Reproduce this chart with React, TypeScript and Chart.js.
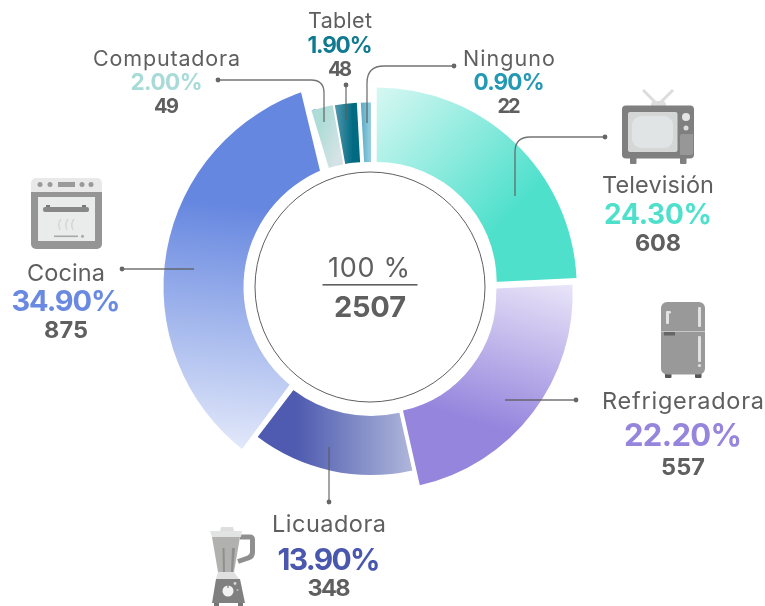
import React, { useEffect, useRef } from "react";
import { Chart, registerables } from "chart.js";

Chart.register(...registerables);

// ---------- data ----------
const categories = ["Televisión", "Refrigeradora", "Licuadora", "Cocina", "Computadora", "Tablet", "Ninguno"];
const counts = [608, 557, 348, 875, 49, 48, 22];
const percents = [24.3, 22.2, 13.9, 34.9, 2.0, 1.9, 0.9];
const totalCount = 2507;
const totalLabel = "100 %";

// ---------- styles ----------
const FONT = "Inter, 'Noto Sans', sans-serif";
const GREY = "#5f5f5f";
const percentColors = ["#4fe0cc", "#9585dd", "#4a57ae", "#6a8ae2", "#a8dbd8", "#0f7a90", "#2499b3"];
// per-slice explosion: arc centre and radii
const sliceStyle = [
  { cx: 376.7, cy: 287.5, r0: 112, r1: 200 },
  { cx: 376.7, cy: 294, r0: 119.5, r1: 196 },
  { cx: 371, cy: 287, r0: 129, r1: 188 },
  { cx: 370, cy: 287, r0: 126.5, r1: 206.5 },
  { cx: 365, cy: 287, r0: 124.5, r1: 184.5 },
  { cx: 367, cy: 287, r0: 125, r1: 184.5 },
  { cx: 371, cy: 287, r0: 125, r1: 184.5 },
];
type Stop = [number, string];
const gradients: { line: number[]; stops: Stop[] }[] = [
  { line: [382, 88, 512, 212], stops: [[0, "#d4f7f2"], [1, "#4fe0cc"]] },
  { line: [556, 280, 508, 432], stops: [[0, "#e9e5f8"], [1, "#9585dd"]] },
  { line: [296, 440, 412, 440], stops: [[0, "#4e5bb0"], [1, "#aeb6da"]] },
  { line: [300, 212, 276, 452], stops: [[0, "#6687e0"], [1, "#e2e8fa"]] },
  { line: [318, 130, 345, 140], stops: [[0, "#aedcd7"], [1, "#d6e3e6"]] },
  { line: [336, 130, 353, 130], stops: [[0, "#4f95a9"], [1, "#006a82"]] },
  { line: [360, 130, 373, 130], stops: [[0, "#52a7c4"], [1, "#a5d7e4"]] },
];
// label blocks: centre x, baselines, font sizes, measured widths
const labelStyle = [
  { x: 658, y: [193, 224, 251], s: [23.5, 28, 23.5], w: [112, 108, 46] },
  { x: 683, y: [409, 446, 475], s: [23.5, 31, 23.5], w: [162, 118, 44] },
  { x: 329, y: [532, 570, 596], s: [23.5, 30, 23.5], w: [114, 103, 43] },
  { x: 66, y: [281, 311, 338], s: [23.5, 29, 23.5], w: [78, 109, 44] },
  { x: 166.5, y: [66, 90, 113], s: [21.5, 22.5, 20], w: [147, 72, 25] },
  { x: 340, y: [28, 53, 76], s: [21.5, 22.5, 20], w: [64, 65, 24] },
  { x: 509, y: [66, 90, 113], s: [21.5, 22.5, 20], w: [92, 71, 23] },
];

function fitText(ctx: CanvasRenderingContext2D, text: string, cx: number, y: number, width: number, font: string, color: string) {
  ctx.save();
  ctx.font = font;
  ctx.fillStyle = color;
  ctx.textAlign = "left";
  ctx.textBaseline = "alphabetic";
  (ctx as any).letterSpacing = "0px";
  const w = ctx.measureText(text).width;
  const ls = (width - w) / Math.max(1, text.length - 1);
  (ctx as any).letterSpacing = ls.toFixed(3) + "px";
  ctx.fillText(text, cx - width / 2, y);
  ctx.restore();
}

function rr(ctx: CanvasRenderingContext2D, x: number, y: number, w: number, h: number, r: number | number[], fill: string) {
  ctx.beginPath();
  (ctx as any).roundRect(x, y, w, h, r);
  ctx.fillStyle = fill;
  ctx.fill();
}
function poly(ctx: CanvasRenderingContext2D, pts: number[], fill: string) {
  ctx.beginPath();
  ctx.moveTo(pts[0], pts[1]);
  for (let i = 2; i < pts.length; i += 2) ctx.lineTo(pts[i], pts[i + 1]);
  ctx.closePath();
  ctx.fillStyle = fill;
  ctx.fill();
}
function dot(ctx: CanvasRenderingContext2D, x: number, y: number, r: number, fill: string) {
  ctx.beginPath();
  ctx.arc(x, y, r, 0, Math.PI * 2);
  ctx.fillStyle = fill;
  ctx.fill();
}
function stroke(ctx: CanvasRenderingContext2D, pts: number[], w: number, color: string) {
  ctx.beginPath();
  ctx.moveTo(pts[0], pts[1]);
  for (let i = 2; i < pts.length; i += 2) ctx.lineTo(pts[i], pts[i + 1]);
  ctx.lineWidth = w;
  ctx.strokeStyle = color;
  ctx.stroke();
}

function drawTv(c: CanvasRenderingContext2D) {
  stroke(c, [643, 90, 656, 103], 3, "#dcdcdc");
  stroke(c, [673, 90, 660, 103], 3, "#dcdcdc");
  rr(c, 651, 101, 15, 6, [4, 4, 0, 0], "#dedede");
  rr(c, 630, 156, 6.5, 8, 1, "#808080");
  rr(c, 680, 156, 6.5, 8, 1, "#808080");
  rr(c, 622, 105.5, 72, 53, 4, "#7f7f7f");
  rr(c, 628, 112, 49.5, 40, 2, "#d5d6d6");
  rr(c, 632, 116, 41, 32, 9, "#e1e4e4");
  dot(c, 686, 117, 4, "#e4e4e4");
  dot(c, 686, 128, 2.5, "#dcdcdc");
  rr(c, 680, 134, 13, 21, [2, 0, 2, 0], "#979797");
}
function drawFridge(c: CanvasRenderingContext2D) {
  rr(c, 665, 372, 6.5, 6, 1, "#555");
  rr(c, 695, 372, 6.5, 6, 1, "#555");
  rr(c, 661, 302, 44, 72.5, 6, "#999");
  c.fillStyle = "#c6c6c6";
  c.fillRect(661, 331, 44, 1);
  c.fillStyle = "#666";
  c.fillRect(664, 332, 11, 3.5);
  rr(c, 666, 312, 3, 12, 1, "#e2e2e2");
  rr(c, 666, 311, 5, 2.5, 1, "#e2e2e2");
  rr(c, 698, 307, 3, 20, 1, "#e2e2e2");
  rr(c, 698, 336, 3, 26, 1, "#e2e2e2");
  dot(c, 699.5, 365.5, 1.6, "#e2e2e2");
}
function drawOven(c: CanvasRenderingContext2D) {
  rr(c, 31, 178, 71, 15, [5, 5, 0, 0], "#e9e9e9");
  rr(c, 31, 192, 71, 57, [0, 0, 5, 5], "#959595");
  c.fillStyle = "#eaecec";
  c.fillRect(38, 197, 57, 44);
  [40, 50, 82, 91].forEach((x) => dot(c, x, 184.5, 2.5, "#9a9a9a"));
  c.fillStyle = "#9a9a9a";
  c.fillRect(58, 182, 17, 5);
  rr(c, 43, 207, 46, 5, 2, "#888");
  c.fillStyle = "#777";
  c.fillRect(46, 205, 4, 2);
  c.fillRect(82, 205, 4, 2);
  [60, 67, 73].forEach((x) => {
    c.beginPath();
    c.moveTo(x + 1, 219);
    c.quadraticCurveTo(x - 3, 224, x, 230);
    c.lineWidth = 1.3;
    c.strokeStyle = "#d2d4d4";
    c.stroke();
  });
  c.fillStyle = "#a8a8a8";
  c.fillRect(54, 235.5, 24, 1.6);
  dot(c, 82.5, 236.3, 1.5, "#a8a8a8");
}
function drawBlender(c: CanvasRenderingContext2D) {
  c.save();
  c.lineJoin = "round";
  c.beginPath();
  c.moveTo(240, 537);
  c.lineTo(250, 537);
  c.quadraticCurveTo(252.5, 537, 252.5, 540);
  c.lineTo(252.5, 552);
  c.quadraticCurveTo(252.5, 557, 248, 558);
  c.lineTo(238, 561.5);
  c.lineWidth = 5;
  c.strokeStyle = "#8f8f8f";
  c.stroke();
  c.restore();
  poly(c, [220, 531, 221, 527, 233, 527, 234, 531], "#dedede");
  poly(c, [210, 531, 242, 531, 241, 537, 212, 537], "#e2e4e4");
  poly(c, [212, 537, 240, 537, 234, 572, 218, 572], "#b1b1af");
  poly(c, [222.5, 548, 224.5, 548, 225, 572, 223, 572], "#8f8f8f");
  poly(c, [232, 548, 235, 548, 233, 572, 231, 572], "#8f8f8f");
  poly(c, [218, 572, 234, 572, 239, 579, 216, 579], "#e0e0e0");
  rr(c, 214, 602, 5, 4, 0, "#777");
  rr(c, 238, 602, 5, 4, 0, "#777");
  poly(c, [216, 579, 240, 579, 245, 603, 212, 603], "#808080");
  dot(c, 228, 591, 5.5, "#f2f2f2");
  c.fillStyle = "#808080";
  c.fillRect(227.4, 584, 1.2, 4);
  dot(c, 235, 583.5, 1.4, "#d8d8d8");
  dot(c, 237.5, 590, 1, "#bdbdbd");
}

const leaderPaths: ((c: CanvasRenderingContext2D) => number[])[] = [
  (c) => { c.moveTo(515, 196); c.lineTo(515, 152); c.quadraticCurveTo(515, 137, 530, 137); c.lineTo(605, 137); return [605, 137]; },
  (c) => { c.moveTo(505, 400); c.lineTo(576, 400); return [576, 400]; },
  (c) => { c.moveTo(329, 447); c.lineTo(329, 502); return [329, 502]; },
  (c) => { c.moveTo(194, 269); c.lineTo(122, 269); return [122, 269]; },
  (c) => { c.moveTo(324, 122); c.lineTo(324, 93); c.quadraticCurveTo(324, 80, 311, 80); c.lineTo(218, 80); return [218, 80]; },
  (c) => { c.moveTo(346, 120); c.lineTo(346, 85); return [346, 85]; },
  (c) => { c.moveTo(367, 123); c.lineTo(367, 83); c.quadraticCurveTo(367, 66, 384, 66); c.lineTo(454, 66); return [454, 66]; },
];

const overlayPlugin = {
  id: "overlay",
  afterDatasetsUpdate(chart: any) {
    chart.getDatasetMeta(0).data.forEach((el: any, i: number) => {
      const g = sliceStyle[i];
      el.x = g.cx;
      el.y = g.cy;
      el.innerRadius = g.r0;
      el.outerRadius = g.r1;
    });
  },
  afterDatasetsDraw(chart: any) {
    const c: CanvasRenderingContext2D = chart.ctx;
    c.save();
    // white gaps beside the Cocina slice
    poly(c, [300.5, 90, 321, 175, 329.5, 175, 329.5, 170, 311.5, 110.5, 318, 107.8, 318, 84, 300, 84], "#fff");
    poly(c, [293.5, 379.5, 238, 454.5, 250, 456, 253, 443, 295, 388], "#fff");
    // hollow centre
    dot(c, 376.7, 282, 120, "#fff");
    dot(c, 370, 287, 124, "#fff");
    c.beginPath();
    c.arc(370, 287, 115, 0, Math.PI * 2);
    c.lineWidth = 1;
    c.strokeStyle = "#606060";
    c.stroke();

    // leader lines
    leaderPaths.forEach((p) => {
      c.beginPath();
      const end = p(c);
      c.lineWidth = 1.3;
      c.strokeStyle = "rgba(90,90,90,0.85)";
      c.stroke();
      dot(c, end[0], end[1], 2.4, "#666");
    });

    // icons
    drawTv(c);
    drawFridge(c);
    drawOven(c);
    drawBlender(c);

    // labels
    categories.forEach((name, i) => {
      const l = labelStyle[i];
      fitText(c, name, l.x, l.y[0], l.w[0], `400 ${l.s[0]}px ${FONT}`, GREY);
      fitText(c, percents[i].toFixed(2) + "%", l.x, l.y[1], l.w[1], `700 ${l.s[1]}px ${FONT}`, percentColors[i]);
      fitText(c, String(counts[i]), l.x, l.y[2], l.w[2], `700 ${l.s[2]}px ${FONT}`, GREY);
    });

    // centre total
    fitText(c, totalLabel, 369, 277, 82, `400 27px ${FONT}`, GREY);
    c.fillStyle = GREY;
    c.fillRect(322.5, 284, 95, 1.6);
    fitText(c, String(totalCount), 370, 317, 72, `700 29px ${FONT}`, GREY);
    c.restore();
  },
};

export default function App() {
  const ref = useRef<HTMLCanvasElement>(null);
  useEffect(() => {
    const canvas = ref.current!;
    const ctx = canvas.getContext("2d")!;
    const fills = gradients.map((g) => {
      const lg = ctx.createLinearGradient(g.line[0], g.line[1], g.line[2], g.line[3]);
      g.stops.forEach(([o, col]) => lg.addColorStop(o, col));
      return lg;
    });
    const chart = new Chart(canvas, {
      type: "doughnut",
      data: {
        labels: categories,
        datasets: [{ data: counts, backgroundColor: fills as any, borderWidth: 0, hoverOffset: 0 }],
      },
      options: {
        responsive: false,
        animation: false,
        events: [],
        cutout: "60%",
        rotation: 0,
        layout: { padding: 0 },
        plugins: { legend: { display: false }, tooltip: { enabled: false } },
      },
      plugins: [overlayPlugin as any],
    });
    return () => chart.destroy();
  }, []);
  return (
    <div style={{ position: "absolute", left: 0, top: 0, width: 765, height: 606, background: "#fff" }}>
      <canvas ref={ref} width={765} height={606} style={{ display: "block", width: 765, height: 606 }} />
    </div>
  );
}
